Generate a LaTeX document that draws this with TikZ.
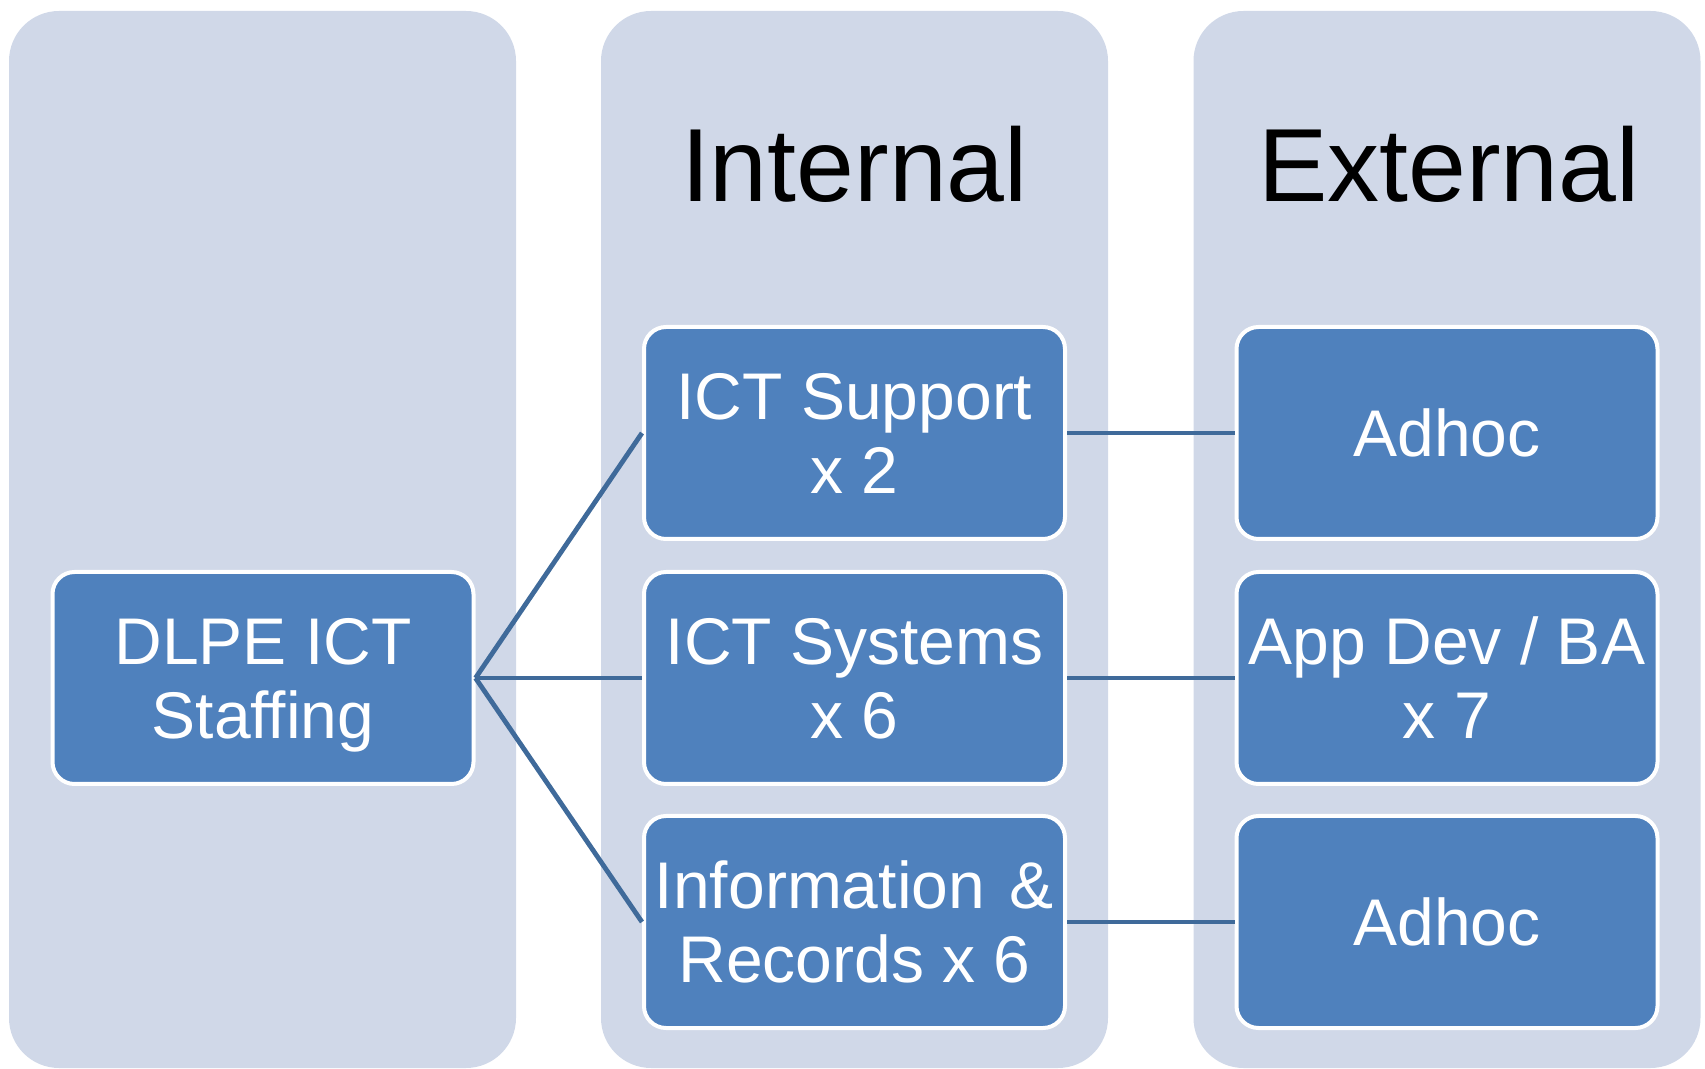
\documentclass[tikz,border=0pt]{standalone}
\usepackage{fontspec}
\setmainfont{Liberation Sans}
\definecolor{colbg}{HTML}{D0D8E8}
\definecolor{boxblue}{HTML}{4F81BD}
\definecolor{linkblue}{HTML}{3F6A9A}
\tikzset{
  column/.style={rectangle, fill=colbg, rounded corners=25pt, minimum width=253.5pt, minimum height=528.5pt, inner sep=0pt},
  unitbox/.style={rectangle, fill=boxblue, draw=white, line width=2pt, rounded corners=11pt,
    minimum width=210.5pt, minimum height=106pt, inner sep=0pt, align=center, text=white,
    font=\fontsize{33pt}{37pt}\selectfont, text depth=0pt},
  coltitle/.style={anchor=base, inner sep=0pt, font=\fontsize{52pt}{60pt}\selectfont, text=black},
  link/.style={draw=linkblue, line width=2.4pt}
}
\begin{document}
\begin{tikzpicture}[x=0.5pt,y=-0.5pt]
\useasboundingbox (0,0) rectangle (1705,1069);
% columns
\node[column] (colL) at (262.5,539.5) {};
\node[column] (colM) at (854.5,539.5) {};
\node[column] (colR) at (1447,539.5) {};
% titles
\node[coltitle] (tint) at (854.5,202) {Internal};
\node[coltitle] (text) at (1449,202) {External};
% boxes
\node[unitbox] (dlpe) at (263,678) {DLPE ICT\\Staffing};
\node[unitbox] (sup) at (854.5,433) {ICT Support\\x 2};
\node[unitbox] (sys) at (854.5,678) {ICT Systems\\x 6};
\node[unitbox] (rec) at (854.5,922) {Information\hspace{0.1em} \&\\Records x 6};
\node[unitbox] (adh1) at (1447,433) {Adhoc};
\node[unitbox] (app) at (1447,678) {App Dev / BA\\x 7};
\node[unitbox] (adh2) at (1447,922) {Adhoc};
% connectors
\draw[link] (dlpe.east) -- (sup.west);
\draw[link] (dlpe.east) -- (sys.west);
\draw[link] (dlpe.east) -- (rec.west);
\draw[link] (sup.east) -- (adh1.west);
\draw[link] (sys.east) -- (app.west);
\draw[link] (rec.east) -- (adh2.west);
\end{tikzpicture}
\end{document}
